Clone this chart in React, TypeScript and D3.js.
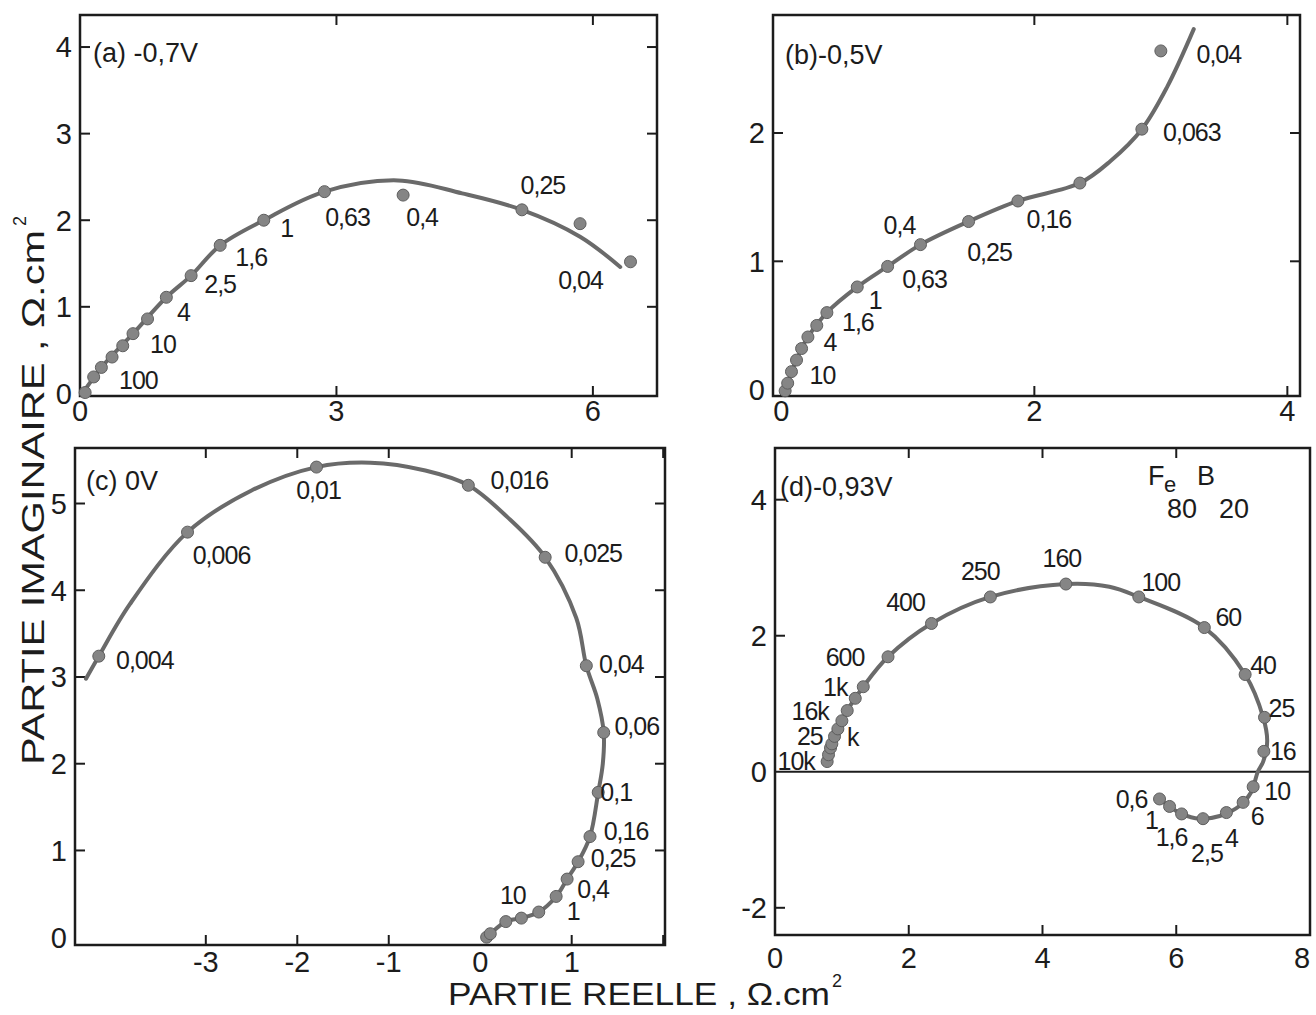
import React from "react";
import * as d3 from "d3";

type Pt = [number, number];
type Note = [string, number];

// ---------------- Panel (a) -0,7 V ----------------
const aCurve: Pt[] = [
  [0.03, 0], [0.25, 0.3], [0.62, 0.69], [1.01, 1.11], [1.3, 1.36], [1.64, 1.71],
  [2.15, 2.0], [2.86, 2.33], [3.72, 2.46], [4.47, 2.31], [5.17, 2.12], [5.85, 1.81], [6.32, 1.46],
];
const aPoints: Pt[] = [
  [0.06, 0.01], [0.16, 0.19], [0.25, 0.3], [0.375, 0.42], [0.5, 0.55], [0.62, 0.69],
  [0.79, 0.86], [1.01, 1.11], [1.3, 1.36], [1.64, 1.71], [2.15, 2.0], [2.86, 2.33],
  [3.78, 2.29], [5.17, 2.12], [5.85, 1.96], [6.44, 1.52],
];
const aNotes: Note[] = [
  ["100", 2], ["10", 5], ["4", 7], ["2,5", 8], ["1,6", 9], ["1", 10],
  ["0,63", 11], ["0,4", 12], ["0,25", 13], ["0,04", 15],
];
const aXTicks = [0, 3, 6];
const aYTicks = [0, 1, 2, 3, 4];

// ---------------- Panel (b) -0,5 V ----------------
const bCurve: Pt[] = [
  [0.03, -0.01], [0.05, 0.05], [0.08, 0.14], [0.12, 0.23], [0.16, 0.32], [0.21, 0.41],
  [0.36, 0.6], [0.6, 0.8], [0.84, 0.96], [1.1, 1.13], [1.48, 1.31], [1.87, 1.47],
  [2.36, 1.61], [2.6, 1.78], [2.85, 2.03], [3.05, 2.36], [3.26, 2.81],
];
const bPoints: Pt[] = [
  [0.03, -0.01], [0.05, 0.05], [0.08, 0.14], [0.12, 0.23], [0.16, 0.32], [0.21, 0.41],
  [0.28, 0.5], [0.36, 0.6], [0.6, 0.8], [0.84, 0.96], [1.1, 1.13], [1.48, 1.31],
  [1.87, 1.47], [2.36, 1.61], [2.85, 2.03], [3.0, 2.64],
];
const bNotes: Note[] = [
  ["10", 3], ["4", 5], ["1,6", 7], ["1", 8], ["0,63", 9], ["0,4", 10],
  ["0,25", 11], ["0,16", 12], ["0,063", 14], ["0,04", 15],
];
const bXTicks = [0, 2, 4];
const bYTicks = [0, 1, 2];

// ---------------- Panel (c) 0 V ----------------
const cCurve: Pt[] = [
  [-4.31, 2.98], [-4.17, 3.24], [-3.83, 3.84], [-3.2, 4.67], [-2.5, 5.15], [-1.79, 5.42],
  [-1.2, 5.47], [-0.6, 5.38], [-0.13, 5.21], [0.3, 4.84], [0.71, 4.38], [1.05, 3.68],
  [1.16, 3.13], [1.28, 2.75], [1.35, 2.36], [1.34, 2.0], [1.29, 1.67], [1.2, 1.16],
  [1.07, 0.87], [0.95, 0.67], [0.83, 0.47], [0.64, 0.29], [0.45, 0.22], [0.28, 0.18],
  [0.11, 0.04], [0.07, 0],
];
const cPoints: Pt[] = [
  [0.07, 0.0], [0.11, 0.04], [0.28, 0.18], [0.45, 0.22], [0.64, 0.29], [0.83, 0.47],
  [0.95, 0.67], [1.07, 0.87], [1.2, 1.16], [1.29, 1.67], [1.35, 2.36], [1.16, 3.13],
  [0.71, 4.38], [-0.13, 5.21], [-1.79, 5.42], [-3.2, 4.67], [-4.17, 3.24],
];
const cNotes: Note[] = [
  ["10", 2], ["1", 5], ["0,4", 6], ["0,25", 7], ["0,16", 8], ["0,1", 9], ["0,06", 10],
  ["0,04", 11], ["0,025", 12], ["0,016", 13], ["0,01", 14], ["0,006", 15], ["0,004", 16],
];
const cXTicks = [-3, -2, -1, 0, 1];
const cYTicks = [0, 1, 2, 3, 4, 5];

// ---------------- Panel (d) -0,93 V ----------------
const dCurve: Pt[] = [
  [0.78, 0.15], [0.85, 0.41], [0.94, 0.63], [1.08, 0.9], [1.32, 1.25], [1.69, 1.69],
  [2.34, 2.18], [3.22, 2.57], [4.35, 2.76], [5.0, 2.72], [5.44, 2.57], [6.42, 2.12],
  [7.03, 1.43], [7.3, 0.8], [7.36, 0.45], [7.3, 0.15], [7.22, 0.0], [7.12, -0.3],
  [6.95, -0.5], [6.65, -0.65], [6.35, -0.69], [6.08, -0.62], [5.9, -0.51], [5.75, -0.4],
];
const dPoints: Pt[] = [
  [0.78, 0.15], [0.8, 0.25], [0.83, 0.35], [0.85, 0.41], [0.89, 0.52], [0.94, 0.63],
  [1.0, 0.75], [1.08, 0.9], [1.2, 1.08], [1.32, 1.25], [1.69, 1.69], [2.34, 2.18],
  [3.22, 2.57], [4.35, 2.76], [5.44, 2.57], [6.42, 2.12], [7.03, 1.43], [7.32, 0.8],
  [7.31, 0.3], [7.15, -0.22], [7.0, -0.45], [6.75, -0.6], [6.4, -0.69], [6.08, -0.62],
  [5.9, -0.51], [5.75, -0.4],
];
const dNotes: Note[] = [
  ["10k", 0], ["25", 5], ["k", 5], ["16k", 7], ["1k", 9], ["600", 10], ["400", 11],
  ["250", 12], ["160", 13], ["100", 14], ["60", 15], ["40", 16], ["25", 17], ["16", 18],
  ["10", 19], ["6", 20], ["4", 21], ["2,5", 22], ["1,6", 23], ["1", 24], ["0,6", 25],
];
const dXTicks = [0, 2, 4, 6, 8];
const dYTicks = [-2, 0, 2, 4];

// ---------------- layout (pixels) ----------------
interface Spec {
  title: string;
  titleXY: Pt;
  frame: [number, number, number, number];
  xDomain: Pt;
  yDomain: Pt;
  xTicks: number[];
  yTicks: number[];
  xMarks: number[];
  yMarksL: number[];
  yMarksR: number[];
  curve: Pt[];
  points: Pt[];
  notes: Note[];
  offsets: Pt[];
  xLabelY: number;
  zeroLine?: boolean;
}

const specs: Spec[] = [
  {
    title: "(a) -0,7V", titleXY: [93, 62],
    frame: [80, 657, 15, 396], xDomain: [0, 6.75], yDomain: [-0.03, 4.37],
    xTicks: aXTicks, yTicks: aYTicks, xMarks: [3, 6], yMarksL: [1, 2, 3, 4], yMarksR: [1, 2, 3, 4],
    curve: aCurve, points: aPoints, notes: aNotes,
    offsets: [[37, 13], [30, 10], [17, 15], [29, 8], [31, 12], [23, 8], [23, 25], [19, 22], [21, -25], [-50, 18]],
    xLabelY: 421,
  },
  {
    title: "(b)-0,5V", titleXY: [785, 64],
    frame: [773, 1300, 15, 396], xDomain: [-0.066, 4.1], yDomain: [-0.05, 2.92],
    xTicks: bXTicks, yTicks: bYTicks, xMarks: [2, 4], yMarksL: [1, 2], yMarksR: [1, 2],
    curve: bCurve, points: bPoints, notes: bNotes,
    offsets: [[26, 15], [22, 5], [31, 9], [18, 13], [37, 13], [-21, -20], [21, 30], [31, 18], [50, 3], [58, 3]],
    xLabelY: 421,
  },
  {
    title: "(c) 0V", titleXY: [86, 490],
    frame: [75, 665, 448, 945], xDomain: [-4.43, 2.02], yDomain: [-0.09, 5.64],
    xTicks: cXTicks, yTicks: cYTicks, xMarks: [-3, -2, -1, 1, 2], yMarksL: [1, 2, 3, 4, 5], yMarksR: [1, 2, 3, 4, 5],
    curve: cCurve, points: cPoints, notes: cNotes,
    offsets: [[7, -27], [17, 15], [26, 10], [35, -4], [36, -6], [18, 0], [33, -6], [35, -2], [48, -4], [51, -5], [2, 23], [34, 23], [46, 4]],
    xLabelY: 972,
  },
  {
    title: "(d)-0,93V", titleXY: [780, 496],
    frame: [775, 1310, 448, 935], xDomain: [0, 8], yDomain: [-2.4, 4.76],
    xTicks: dXTicks, yTicks: dYTicks, xMarks: [2, 4, 6], yMarksL: [-2, 2, 4], yMarksR: [],
    curve: dCurve, points: dPoints, notes: dNotes,
    offsets: [
      [-31, -1], [-28, 7], [15, 8], [-37, 0], [-28, 0], [-43, 0], [-26, -21], [-10, -26],
      [-4, -26], [22, -15], [24, -11], [18, -9], [17, -9], [19, 0], [24, 4], [14, 14],
      [5, 25], [4, 34], [-10, 23], [-18, 14], [-28, 0],
    ],
    xLabelY: 968,
    zeroLine: true,
  },
];

const INK = "#1c1c1c";
const FONT = "'Liberation Sans', Arial, sans-serif";

function Panel({ s }: { s: Spec }) {
  const [x0, x1, y0, y1] = s.frame;
  const x = d3.scaleLinear().domain(s.xDomain).range([x0, x1]);
  const y = d3.scaleLinear().domain(s.yDomain).range([y1, y0]);
  const line = d3
    .line<Pt>()
    .x((d) => x(d[0]))
    .y((d) => y(d[1]))
    .curve(d3.curveCatmullRom.alpha(0.5));
  const tk = 10;
  return (
    <g>
      <rect x={x0} y={y0} width={x1 - x0} height={y1 - y0} fill="none" stroke={INK} strokeWidth={2.5} />
      {s.zeroLine && (
        <line x1={x0} x2={x1} y1={y(0)} y2={y(0)} stroke={INK} strokeWidth={2.2} />
      )}
      {s.xMarks.map((v) => (
        <g key={"xm" + v}>
          <line x1={x(v)} x2={x(v)} y1={y1} y2={y1 - tk} stroke={INK} strokeWidth={2} />
          <line x1={x(v)} x2={x(v)} y1={y0} y2={y0 + tk} stroke={INK} strokeWidth={2} />
        </g>
      ))}
      {s.yMarksL.map((v) => (
        <line key={"yl" + v} x1={x0} x2={x0 + tk} y1={y(v)} y2={y(v)} stroke={INK} strokeWidth={2} />
      ))}
      {s.yMarksR.map((v) => (
        <line key={"yr" + v} x1={x1} x2={x1 - tk} y1={y(v)} y2={y(v)} stroke={INK} strokeWidth={2} />
      ))}
      {s.xTicks.map((v) => (
        <text key={"xt" + v} x={Math.min(x(v), 1302)} y={s.xLabelY} textAnchor="middle" fontSize={29} fill={INK} fontFamily={FONT}>
          {String(v)}
        </text>
      ))}
      {s.yTicks.map((v) => (
        <text key={"yt" + v} x={x0 - 8} y={y(v)} dy="0.36em" textAnchor="end" fontSize={29} fill={INK} fontFamily={FONT}>
          {String(v)}
        </text>
      ))}
      <path d={line(s.curve) || ""} fill="none" stroke="#6a6a6a" strokeWidth={4} strokeLinecap="round" />
      {s.points.map((p, i) => (
        <circle key={"p" + i} cx={x(p[0])} cy={y(p[1])} r={6} fill="#858585" stroke="#5e5e5e" strokeWidth={1} />
      ))}
      {s.notes.map(([t, idx], i) => {
        const p = s.points[idx];
        const off = s.offsets[i] || [0, 0];
        return (
          <text key={"n" + i} x={x(p[0]) + off[0]} y={y(p[1]) + off[1]} dy="0.36em" textAnchor="middle"
            fontSize={25} fill={INK} fontFamily={FONT} letterSpacing={-1}>
            {t}
          </text>
        );
      })}
      <text x={s.titleXY[0]} y={s.titleXY[1]} fontSize={27} fill={INK} fontFamily={FONT}>
        {s.title}
      </text>
    </g>
  );
}

export default function App() {
  return (
    <svg width={1316} height={1015} viewBox="0 0 1316 1015"
      style={{ position: "absolute", left: 0, top: 0, background: "#fff" }}>
      <rect x={0} y={0} width={1316} height={1015} fill="#fff" />
      {specs.map((s, i) => (
        <Panel key={i} s={s} />
      ))}
      <g fontFamily={FONT} fill={INK} fontSize={27}>
        <text x={1148} y={485}>F</text>
        <text x={1164} y={492} fontSize={22}>e</text>
        <text x={1197} y={485}>B</text>
        <text x={1167} y={518}>80</text>
        <text x={1219} y={518}>20</text>
      </g>
      <g fontFamily={FONT} fill={INK}>
        <text x={448} y={1005} fontSize={32} textLength={382} lengthAdjust="spacingAndGlyphs">
          PARTIE  REELLE , Ω.cm
        </text>
        <text x={832} y={987} fontSize={18}>2</text>
        <g transform="translate(44,765) rotate(-90)">
          <text x={0} y={0} fontSize={32} textLength={535} lengthAdjust="spacingAndGlyphs">
            PARTIE  IMAGINAIRE , Ω.cm
          </text>
          <text x={539} y={-18} fontSize={18}>2</text>
        </g>
      </g>
    </svg>
  );
}
